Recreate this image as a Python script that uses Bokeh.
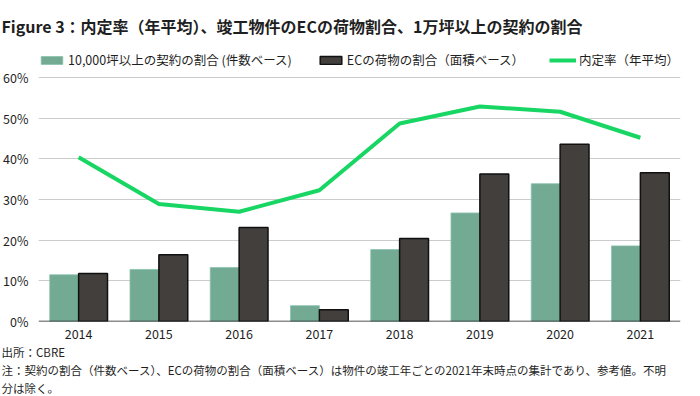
from bokeh.plotting import figure
from bokeh.models import (ColumnDataSource, FactorRange, Range1d, FixedTicker, PrintfTickFormatter,
                          Span, Title, Legend, LegendItem)
from bokeh.transform import dodge
from bokeh.embed import file_html
from bokeh.resources import INLINE

years = ["2014", "2015", "2016", "2017", "2018", "2019", "2020", "2021"]
contract_share = [11.5, 12.8, 13.3, 3.9, 17.7, 26.7, 33.9, 18.6]
ec_share = [11.8, 16.4, 23.1, 2.9, 20.4, 36.3, 43.6, 36.6]
offer_rate = [40.4, 28.9, 27.0, 32.3, 48.7, 52.9, 51.6, 45.2]
y_ticks = [0, 10, 20, 30, 40, 50, 60]

label_contract = "10,000坪以上の契約の割合 (件数ベース)"
label_ec = "ECの荷物の割合（面積ベース）"
label_rate = "内定率（年平均）"
title_text = "Figure 3：内定率（年平均）、竣工物件のECの荷物割合、1万坪以上の契約の割合"
source_text = "出所：CBRE"
note_line1 = "注：契約の割合（件数ベース）、ECの荷物の割合（面積ベース）は物件の竣工年ごとの2021年末時点の集計であり、参考値。不明"
note_line2 = "分は除く。"

FONT = "Noto Sans CJK JP"
GREEN_BAR = "#72aa94"
DARK_BAR = "#423f3c"
LINE_GREEN = "#18d663"
TEXT = "#1f1f1f"

src = ColumnDataSource(dict(year=years, contract=contract_share, ec=ec_share, rate=offer_rate))

p = figure(width=684, height=395, x_range=FactorRange(*years), y_range=Range1d(0, 67.16),
           output_backend="svg", toolbar_location=None,
           min_border_left=36, min_border_right=4, min_border_top=48, min_border_bottom=65)
p.outline_line_color = None
p.background_fill_color = "#ffffff"
p.border_fill_color = "#ffffff"

r1 = p.vbar(x=dodge("year", -0.18, range=p.x_range), top="contract", width=0.36, source=src,
            fill_color=GREEN_BAR, line_color="#8cc2ad", line_width=0.8)
r2 = p.vbar(x=dodge("year", 0.18, range=p.x_range), top="ec", width=0.36, source=src,
            fill_color=DARK_BAR, line_color="#111111", line_width=1.5)
r3 = p.line(x="year", y="rate", source=src, line_color=LINE_GREEN, line_width=4)

# axes
p.yaxis.ticker = FixedTicker(ticks=y_ticks)
p.yaxis.formatter = PrintfTickFormatter(format="%d%%")
for ax in (p.xaxis[0], p.yaxis[0]):
    ax.axis_line_color = None
    ax.major_tick_line_color = None
    ax.minor_tick_line_color = None
    ax.major_tick_out = 0
    ax.major_tick_in = 0
    ax.minor_tick_out = 0
    ax.minor_tick_in = 0
    ax.major_label_text_font = FONT
    ax.major_label_text_font_size = "12.5px"
    ax.major_label_text_color = TEXT
p.yaxis.major_label_standoff = 10
p.xaxis.major_label_standoff = 7

p.xgrid.grid_line_color = None
p.ygrid.ticker = FixedTicker(ticks=y_ticks)
p.ygrid.grid_line_color = "#cccccc"
p.ygrid.grid_line_width = 1.2

p.add_layout(Span(location=0, dimension="width", line_color="#1a1a1a", line_width=1.6))

# title
p.title.text = title_text
p.title.text_font = FONT
p.title.text_font_size = "16px"
p.title.text_font_style = "bold"
p.title.text_color = TEXT
p.title.align = "left"
p.title.offset = -37
p.title.standoff = 22

# legend (inside the top strip of the frame, above the 60% gridline)
legend = Legend(items=[LegendItem(label=label_contract, renderers=[r1]),
                       LegendItem(label=label_ec, renderers=[r2]),
                       LegendItem(label=label_rate, renderers=[r3])],
                orientation="horizontal", location=(0, 252))
legend.padding = 0
legend.margin = 0
legend.spacing = 25
legend.glyph_width = 27
legend.glyph_height = 10
legend.label_standoff = 3
legend.label_height = 18
legend.label_text_font = FONT
legend.label_text_font_size = "12.5px"
legend.label_text_color = TEXT
legend.border_line_alpha = 0
legend.background_fill_alpha = 0
p.add_layout(legend, "center")

# footnotes
for txt in (source_text, note_line1, note_line2):
    t = Title(text=txt, text_font=FONT, text_font_size="11.5px", text_font_style="normal",
              text_color=TEXT, align="left", offset=-37, standoff=0)
    p.add_layout(t, "below")

open("out.html", "w").write(file_html(p, INLINE))
